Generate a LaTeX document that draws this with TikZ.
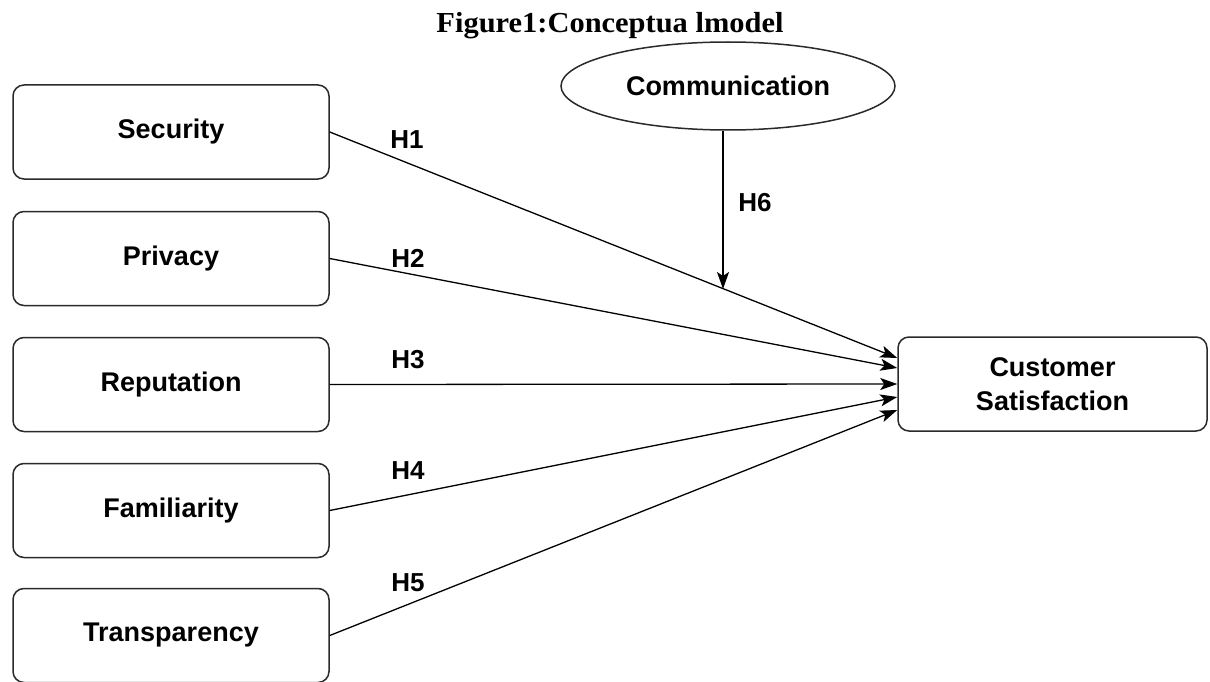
\documentclass[tikz,border=0pt]{standalone}
\usepackage{fontspec}
\setmainfont{Liberation Sans}
\newfontfamily\titlefont{Liberation Serif}
\usetikzlibrary{arrows.meta,shapes.geometric}
\definecolor{edgegray}{HTML}{2A2A2A}
\tikzset{
  boxstyle/.style={draw=edgegray, line width=1.5pt, rounded corners=11pt, fill=white,
    minimum width=316pt, minimum height=94pt, inner sep=0pt, align=center,
    font=\fontsize{27}{34}\selectfont\bfseries, text=black},
  ellstyle/.style={draw=edgegray, line width=1.5pt, ellipse, fill=white,
    minimum width=334pt, minimum height=88pt, inner sep=0pt,
    font=\fontsize{27}{34}\selectfont\bfseries},
  conn/.style={draw=black, line width=1.3pt, -{Stealth[length=17pt,width=12pt,inset=4pt]}},
  hlabel/.style={font=\fontsize{26}{30}\selectfont\bfseries, inner sep=0pt}
}
\begin{document}
\begin{tikzpicture}[x=1pt,y=-1pt]
\useasboundingbox (0,0) rectangle (1210,682);
\fill[white] (0,0) rectangle (1210,682);
\node[font=\titlefont\fontsize{29}{33}\selectfont\bfseries, inner sep=0pt] (title) at (610,26) {\scalebox{1.05}[1]{Figure1:Conceptua lmodel}};
\node[boxstyle] (sec) at (171,132) {Security};
\node[boxstyle] (pri) at (171,258.5) {Privacy};
\node[boxstyle] (rep) at (171,384.5) {Reputation};
\node[boxstyle] (fam) at (171,510.5) {Familiarity};
\node[boxstyle] (tra) at (171,635.5) {Transparency};
\node[boxstyle, minimum width=309pt] (cs) at (1052.5,384) {Customer\\Satisfaction};
\node[ellstyle] (comm) at (728,86) {Communication};
\coordinate (hit) at (723,289);
\draw[conn] (sec.east) -- ([yshift=26pt]cs.west);
\draw[conn] (pri.east) -- ([yshift=16pt]cs.west);
\draw[conn] (rep.east) -- (cs.west);
\draw[conn] (fam.east) -- ([yshift=-13pt]cs.west);
\draw[conn] (tra.east) -- ([yshift=-26pt]cs.west);
\draw[conn] ([xshift=-5pt]comm.south) -- (hit);
\node[hlabel] (h1) at (407,140) {H1};
\node[hlabel] (h2) at (408,258) {H2};
\node[hlabel] (h3) at (408,360) {H3};
\node[hlabel] (h4) at (408,471) {H4};
\node[hlabel] (h5) at (408,583) {H5};
\node[hlabel] (h6) at (755,203) {H6};
\end{tikzpicture}
\end{document}
